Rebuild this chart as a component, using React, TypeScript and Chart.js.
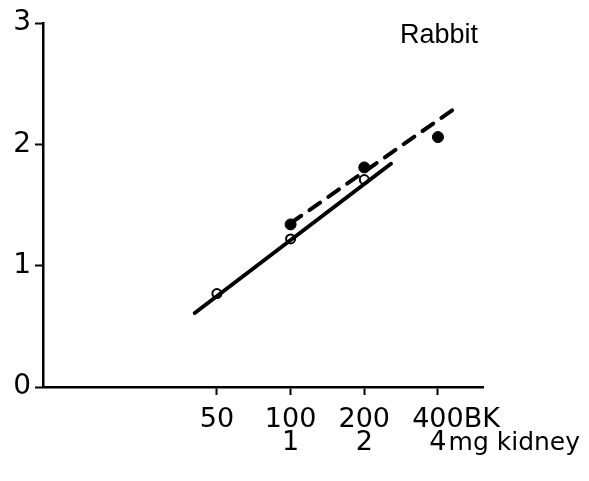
import React, { useEffect, useRef } from "react";
import { Chart, registerables } from "chart.js";

Chart.register(...registerables);

// ---- data ----
const doseTicksBK = [50, 100, 200, 400];
const doseTickLabels = ["50", "100", "200", "400"];
const kidneyTickLabels = ["", "1", "2", "4"];
const yTickValues = [0, 1, 2, 3];

const openX = [50, 100, 200];
const openY = [0.77, 1.22, 1.71];

const filledX = [100, 200, 400];
const filledY = [1.34, 1.81, 2.06];

const solidLineX = [40.6, 257];
const solidLineY = [0.61, 1.84];

const dashedLineX = [100, 472];
const dashedLineY = [1.35, 2.3];

const xMin = 9.74;
const xMax = 611;
const yMin = 0;
const yMax = 3;

const panelTitle = "Rabbit";
const unitSuffix = "BK";
const kidneySuffix = "mg kidney";

const FONT = "DejaVu Sans";
const X_FONT_SIZE = 27;
const X_LINE_HEIGHT = 0.85;
const X_TICK_LEN = 8;
const X_TICK_PAD = 14;

function pts(xs: number[], ys: number[]) {
  return xs.map((x, i) => ({ x, y: ys[i] }));
}

export default function App() {
  const ref = useRef<HTMLCanvasElement | null>(null);

  useEffect(() => {
    document.body.style.margin = "0";
    const canvas = ref.current;
    if (!canvas) return;

    const extras = {
      id: "extras",
      afterDraw(chart: any) {
        const ctx = chart.ctx;
        const xs = chart.scales.x;
        const lh = X_FONT_SIZE * X_LINE_HEIGHT;
        const y0 = xs.top + X_TICK_LEN + X_TICK_PAD + lh / 2;
        ctx.save();
        ctx.fillStyle = "#000";
        ctx.font = `${X_FONT_SIZE}px "${FONT}"`;
        ctx.textBaseline = "middle";
        ctx.textAlign = "left";
        const last = doseTicksBK.length - 1;
        const px = xs.getPixelForValue(doseTicksBK[last]);
        const w1 = ctx.measureText(doseTickLabels[last]).width;
        ctx.fillText(unitSuffix, px + w1 / 2, y0);
        const w2 = ctx.measureText(kidneyTickLabels[last]).width;
        ctx.font = `25px "${FONT}"`;
        ctx.fillText(kidneySuffix, px + w2 / 2 + 2, y0 + lh);
        // title
        ctx.font = `27px "Liberation Sans"`;
        ctx.textBaseline = "alphabetic";
        ctx.fillText(panelTitle, chart.chartArea.right - 83, 43);
        ctx.restore();
      },
    };

    const chart = new Chart(canvas, {
      type: "scatter",
      data: {
        datasets: [
          {
            label: "solid fit",
            data: pts(solidLineX, solidLineY),
            showLine: true,
            borderColor: "#000",
            borderWidth: 4,
            pointRadius: 0,
            borderCapStyle: "round",
          },
          {
            label: "dashed fit",
            data: pts(dashedLineX, dashedLineY),
            showLine: true,
            borderColor: "#000",
            borderWidth: 4,
            borderDash: [13, 10],
            borderCapStyle: "round",
            pointRadius: 0,
          },
          {
            label: "filled",
            data: pts(filledX, filledY),
            showLine: false,
            pointRadius: 5.5,
            pointBackgroundColor: "#000",
            pointBorderColor: "#000",
            pointBorderWidth: 1,
          },
          {
            label: "open",
            data: pts(openX, openY),
            showLine: false,
            pointRadius: 4.5,
            pointBackgroundColor: "#fff",
            pointBorderColor: "#000",
            pointBorderWidth: 2,
          },
        ],
      },
      options: {
        responsive: false,
        animation: false,
        layout: { padding: { top: 23, right: 106, left: 0, bottom: 0 } },
        plugins: {
          legend: { display: false },
          tooltip: { enabled: false },
          title: { display: false },
        },
        scales: {
          x: {
            type: "logarithmic",
            min: xMin,
            max: xMax,
            afterBuildTicks: (s: any) => {
              s.ticks = doseTicksBK.map((v) => ({ value: v }));
            },
            afterFit: (s: any) => {
              s.height = 481 - 387;
            },
            grid: {
              display: true,
              drawOnChartArea: false,
              drawTicks: true,
              tickLength: X_TICK_LEN,
              tickWidth: 2,
              tickColor: "#000",
            },
            border: { display: true, color: "#000", width: 2.5 },
            ticks: {
              autoSkip: false,
              maxRotation: 0,
              minRotation: 0,
              padding: X_TICK_PAD,
              color: "#000",
              font: { family: FONT, size: X_FONT_SIZE, lineHeight: X_LINE_HEIGHT },
              callback: (v: any) => {
                const i = doseTicksBK.indexOf(Number(v));
                if (i < 0) return "";
                return kidneyTickLabels[i]
                  ? [doseTickLabels[i], kidneyTickLabels[i]]
                  : doseTickLabels[i];
              },
            },
          },
          y: {
            type: "linear",
            min: yMin,
            max: yMax,
            afterBuildTicks: (s: any) => {
              s.ticks = yTickValues.map((v) => ({ value: v }));
            },
            afterFit: (s: any) => {
              s.width = 43;
            },
            grid: {
              display: true,
              drawOnChartArea: false,
              drawTicks: true,
              tickLength: 8,
              tickWidth: 2,
              tickColor: "#000",
            },
            border: { display: true, color: "#000", width: 2.5 },
            ticks: {
              padding: 4,
              color: "#000",
              font: { family: FONT, size: 28 },
              callback: (v: any) => String(v),
            },
          },
        },
      },
      plugins: [extras],
    } as any);

    return () => chart.destroy();
  }, []);

  return (
    <div style={{ width: 589, height: 481, position: "relative" }}>
      <canvas ref={ref} width={589} height={481} style={{ display: "block" }} />
    </div>
  );
}
